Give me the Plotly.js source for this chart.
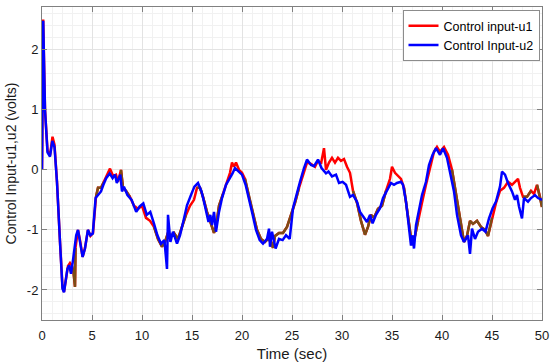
<!DOCTYPE html>
<html>
<head>
<meta charset="utf-8">
<script src="https://cdn.plot.ly/plotly-3.0.1.min.js"></script>
<style>html,body{margin:0;padding:0;background:#fff}#chart{width:550px;height:363px}</style>
</head>
<body>
<div id="chart"></div>
<script>
const timeU1 = [0,0.12,0.3,0.55,0.8,1.05,1.25,1.5,1.8,2.05,2.2,2.4,2.6,2.8,3.0,3.15,3.3,3.35,3.5,3.6,3.8,4.06,4.3,4.6,4.85,5.1,5.4,5.6,5.9,6.2,6.5,6.8,7.1,7.4,7.6,7.9,8.1,8.4,8.8,9.2,9.6,10.0,10.4,10.8,11.2,11.6,12.0,12.3,12.6,12.9,13.2,13.6,14.0,14.4,14.8,15.2,15.5,15.8,16.1,16.5,16.9,17.2,17.4,17.7,18.1,18.5,18.8,19.0,19.2,19.4,19.7,20.0,20.3,20.7,21.1,21.5,21.9,22.3,22.6,22.9,23.1,23.3,23.7,24.1,24.5,24.9,25.3,25.7,26.1,26.5,26.9,27.3,27.6,27.9,28.2,28.4,28.7,29.0,29.3,29.6,29.9,30.2,30.5,30.8,31.1,31.5,31.9,32.3,32.6,32.9,33.2,33.6,34.0,34.4,34.8,35.0,35.3,35.6,35.9,36.2,36.5,36.8,37.0,37.3,37.6,38.0,38.4,38.8,39.2,39.5,39.8,40.2,40.6,41.0,41.4,41.8,42.2,42.5,42.8,43.1,43.5,43.9,44.3,44.6,45.0,45.4,45.8,46.2,46.6,47.0,47.3,47.6,47.8,48.1,48.5,48.9,49.2,49.5,49.8,50];
const controlU1 = [0,2.5,1.0,0.32,0.24,0.55,0.42,-0.2,-1.2,-1.95,-2.03,-1.8,-1.6,-1.55,-1.6,-1.7,-1.95,-1.3,-1.1,-1.0,-1.17,-1.45,-1.3,-1.0,-1.1,-1.05,-0.45,-0.3,-0.3,-0.2,-0.1,0.02,-0.1,-0.08,-0.2,0.0,-0.3,-0.35,-0.45,-0.6,-0.65,-0.6,-0.8,-0.85,-0.95,-1.15,-1.28,-1.2,-1.05,-1.1,-1.05,-1.15,-0.95,-0.75,-0.6,-0.5,-0.3,-0.3,-0.45,-0.7,-0.9,-1.05,-0.95,-0.6,-0.4,-0.2,-0.05,0.12,0.05,0.12,0.0,-0.05,-0.15,-0.45,-0.75,-1.0,-1.15,-1.2,-1.15,-1.2,-1.3,-1.1,-1.05,-1.05,-0.95,-0.75,-0.55,-0.3,-0.1,0.12,0.1,0.05,0.15,0.1,0.36,0.0,0.12,0.2,0.12,0.2,0.15,0.18,0.05,-0.05,-0.35,-0.55,-0.85,-1.08,-0.95,-0.75,-0.8,-0.65,-0.6,-0.35,-0.15,0.05,-0.05,-0.1,-0.15,-0.3,-0.65,-1.05,-1.25,-1.1,-0.85,-0.55,-0.25,0.05,0.3,0.38,0.3,0.38,0.25,0.0,-0.4,-0.85,-1.2,-1.1,-0.85,-0.9,-0.85,-0.95,-1.0,-1.1,-0.8,-0.55,-0.35,-0.3,-0.2,-0.25,-0.2,-0.15,-0.3,-0.45,-0.45,-0.35,-0.4,-0.25,-0.45,-0.62];

const timeU2 = [0,0.12,0.3,0.55,0.8,1.03,1.25,1.5,1.8,2.05,2.2,2.4,2.54,2.72,2.9,3.07,3.25,3.42,3.6,3.78,4.06,4.3,4.59,4.83,5.08,5.36,5.6,5.9,6.14,6.42,6.77,7.06,7.3,7.48,7.83,8.0,8.19,8.54,8.96,9.42,9.77,10.13,10.48,10.83,11.19,11.54,11.9,12.24,12.5,12.6,12.84,13.1,13.5,13.8,14.2,14.5,14.9,15.24,15.6,15.95,16.2,16.5,16.65,16.83,17.0,17.2,17.4,17.7,18.0,18.4,18.8,19.05,19.3,19.65,20.0,20.36,20.7,21.07,21.4,21.77,22.1,22.5,22.7,22.8,23.0,23.36,23.7,24.06,24.4,24.77,25.1,25.5,25.8,26.2,26.5,26.9,27.2,27.6,27.95,28.4,28.65,29.0,29.4,29.7,30.06,30.4,30.8,31.1,31.5,31.8,32.2,32.5,32.8,33.06,33.4,33.8,34.1,34.5,34.9,35.2,35.5,35.9,36.1,36.4,36.7,36.9,37.05,37.2,37.4,37.6,38.0,38.4,38.7,39.06,39.4,39.8,40.1,40.5,40.8,41.2,41.5,41.9,42.2,42.6,42.8,43.0,43.3,43.6,44.0,44.35,44.7,45.06,45.4,45.8,46.0,46.3,46.6,47.0,47.3,47.5,47.7,48.0,48.2,48.6,48.9,49.3,49.6,49.9,50];
const controlU2 = [0,2.48,1.0,0.29,0.22,0.48,0.38,-0.21,-1.2,-1.98,-2.04,-1.8,-1.65,-1.59,-1.73,-1.54,-1.26,-1.09,-1.0,-1.17,-1.45,-1.31,-1.0,-1.09,-1.06,-0.47,-0.42,-0.36,-0.25,-0.14,-0.06,-0.14,-0.08,-0.22,-0.08,-0.36,-0.28,-0.42,-0.5,-0.7,-0.61,-0.56,-0.75,-0.7,-0.89,-1.09,-1.23,-1.17,-1.65,-0.75,-1.2,-1.03,-1.23,-1.09,-0.81,-0.59,-0.42,-0.28,-0.22,-0.36,-0.53,-0.75,-0.87,-0.75,-0.92,-0.7,-1.03,-0.7,-0.47,-0.25,-0.14,-0.06,0.03,-0.03,-0.08,-0.25,-0.47,-0.75,-1.0,-1.17,-1.23,-1.15,-0.98,-1.28,-1.03,-1.31,-1.15,-1.17,-1.09,-1.15,-0.64,-0.36,-0.2,0.03,0.17,0.08,0.06,0.17,0.03,-0.06,-0.03,-0.11,-0.08,-0.22,-0.2,-0.25,-0.45,-0.42,-0.53,-0.7,-0.81,-0.87,-0.75,-0.89,-0.75,-0.64,-0.47,-0.34,-0.22,-0.25,-0.22,-0.2,-0.25,-0.53,-0.98,-1.26,-1.09,-1.31,-0.92,-0.75,-0.42,-0.2,0.08,0.25,0.36,0.25,0.36,0.2,-0.03,-0.36,-0.75,-1.09,-1.2,-1.09,-1.4,-0.98,-1.15,-1.03,-0.98,-1.03,-0.81,-0.64,-0.53,-0.28,-0.03,-0.08,-0.22,-0.36,-0.5,-0.42,-0.61,-0.81,-0.47,-0.53,-0.47,-0.42,-0.47,-0.5,-0.5];

// time spans where the u1 trace shows in a darker brown tone in the picture
const brownSpans = [[2.9,3.4],[5.3,6.3],[7.9,8.9],[11.0,14.6],[15.5,18.2],[20.3,25.8],[31.1,34.6],[36.2,37.6],[40.8,45.2],[48.0,48.9],[49.4,50]];

const xTicks = [0,5,10,15,20,25,30,35,40,45,50];
const yTicks = [-2,-1,0,1,2];
const seriesNames = ['Control input-u1','Control Input-u2'];

const inSpan = t => brownSpans.some(s => t >= s[0] && t <= s[1]);
const brownY = controlU1.map((v, i) => inSpan(timeU1[i]) ? v : null);

const font = 'Liberation Sans, Arial, sans-serif';
const axisCommon = {
  showline: true, linecolor: '#808080', linewidth: 1, mirror: 'ticks',
  ticks: 'inside', ticklen: 5, tickcolor: '#808080',
  showgrid: true, gridcolor: '#e3e3e3', gridwidth: 1, zeroline: false,
  tickfont: {family: font, size: 13, color: '#1a1a1a'}
};

const traces = [
  {x: timeU1, y: controlU1, type: 'scatter', mode: 'lines', name: seriesNames[0],
   line: {color: '#ff0000', width: 2.5}},
  {x: timeU1, y: brownY, type: 'scatter', mode: 'lines', showlegend: false, connectgaps: false,
   line: {color: '#7d4c16', width: 2.5}, hoverinfo: 'skip'},
  {x: timeU2, y: controlU2, type: 'scatter', mode: 'lines', name: seriesNames[1],
   line: {color: '#0000ff', width: 2.5}}
];

const layout = {
  width: 550, height: 363,
  margin: {l: 42, r: 8, t: 7, b: 43},
  paper_bgcolor: '#ffffff', plot_bgcolor: '#ffffff',
  showlegend: true,
  legend: {x: 0.995, y: 0.99, xanchor: 'right', yanchor: 'top',
    bgcolor: '#ffffff', bordercolor: '#8c8c8c', borderwidth: 1,
    font: {family: font, size: 12.5, color: '#000'}, tracegroupgap: 0, itemwidth: 30},
  xaxis: Object.assign({}, axisCommon, {
    range: [0, 50], tickvals: xTicks, ticktext: xTicks.map(String), ticklabelstandoff: 3,
    minor: {dtick: 1, showgrid: true, gridcolor: '#f1f1f1', ticks: ''},
    title: {text: 'Time (sec)', font: {family: font, size: 15, color: '#1a1a1a'}, standoff: 6}
  }),
  yaxis: Object.assign({}, axisCommon, {
    range: [-2.5, 2.71], tickvals: yTicks, ticktext: yTicks.map(String),
    minor: {dtick: 0.2, tick0: 0, showgrid: true, gridcolor: '#f1f1f1', ticks: ''},
    title: {text: 'Control Input-u1,u2 (volts)', font: {family: font, size: 14, color: '#1a1a1a'}, standoff: 6}
  })
};

Plotly.newPlot('chart', traces, layout, {displayModeBar: false, staticPlot: true});
</script>
</body>
</html>
